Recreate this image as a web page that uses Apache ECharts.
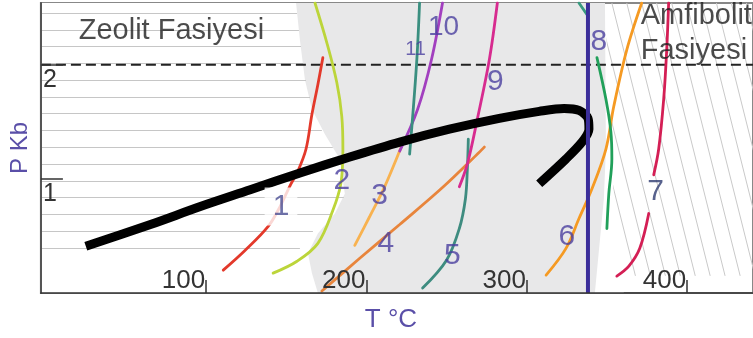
<!DOCTYPE html>
<html><head><meta charset="utf-8">
<script src="https://cdn.jsdelivr.net/npm/echarts@6/dist/echarts.min.js"></script>
<style>html,body{margin:0;padding:0;background:#fff}#c{width:753px;height:338px}</style>
</head><body><div id="c"></div>
<script>
// ---- axis ticks ----
const xTicks = [100, 200, 300, 400];
const yTicks = [1, 2];

// ---- reaction curves (T °C, P kb) ----
const curve1 = [[172.8,2.061],[169.7,1.826],[166.0,1.565],[162.3,1.261],[157.3,1.070],[152.3,0.939],[146.1,0.757],[138.7,0.583],[124.4,0.374],[110.7,0.200]];
const curve2 = [[167.9,2.54],[175.3,2.191],[181.5,1.843],[184.6,1.548],[185.3,1.261],[184.0,0.957],[179.0,0.722],[169.7,0.435],[156.7,0.278],[141.8,0.174]];
const curve3 = [[192.7,0.417],[202.0,0.670],[211.3,0.930],[221.9,1.287]];
const curve4 = [[172.2,0.017],[195.8,0.304],[220.7,0.600],[248.6,0.939],[273.5,1.278]];
const curve5 = [[235.0,0.043],[249.9,0.287],[257.9,0.565],[261.7,0.826],[262.9,1.087],[263.5,1.348]];
const curve6 = [[371.6,2.54],[362.3,2.130],[354.2,1.635],[349.3,1.261],[340.6,0.913],[332.5,0.652],[324.4,0.391],[312.0,0.157]];
const curve7a = [[388.4,2.54],[387.2,2.130],[385.3,1.696],[382.2,1.261],[379.1,1.035]];
const curve7b = [[376.0,0.696],[370.4,0.391],[363.6,0.235],[356.1,0.148]];
const curve8a = [[332.5,2.54],[338.1,2.426]];
const curve8b = [[343.7,2.061],[349.3,1.696],[352.4,1.409],[353.0,1.174],[351.1,0.870],[349.9,0.565]];
const curve9 = [[281.6,2.54],[276.6,2.043],[269.1,1.522],[262.9,1.130],[257.9,0.930]];
const curve10 = [[247.4,2.54],[240.5,2.043],[231.9,1.609],[220.7,1.243]];
const curve11 = [[233.1,2.54],[231.2,2.0],[226.9,1.217]];
const pathCurve = [[25.0,0.409],[65.3,0.600],[96.4,0.757],[127.5,0.904],[158.5,1.052],[189.6,1.191],[220.7,1.322],[251.7,1.435],[282.8,1.530],[307.7,1.591],[323.2,1.617],[332.5,1.600],[338.1,1.530],[338.7,1.435],[334.4,1.322],[324.4,1.174],[307.7,0.957]];
const blueT = 338.1;
const blueP = [0, 2.54];
const dashP = 2.0;

// ---- curve number labels ----
const labelText = ['1','2','3','4','5','6','7','8','9','10','11'];
const labelT = [146.7,184.6,208.2,212.0,253.6,325.0,380.3,344.9,280.3,248.0,230.6];
const labelP = [0.757,0.983,0.852,0.435,0.330,0.496,0.887,2.200,1.852,2.330,2.130];

// ---- facies names ----
const faciesText = ['Zeolit Fasiyesi', 'Amfibolit\nFasiyesi'];
const faciesT = [20.6, 371.0];
const faciesP = [2.296, 2.270];

// ---- field outlines ----
const grayT = [156.1,158.5,161.6,166.0,174.1,183.4,186.5,180.3,169.7,163.5,166.0,169.7,342.4,348.0,349.3,348.7];
const grayP = [2.54,2.217,1.870,1.609,1.391,1.174,0.870,0.696,0.522,0.348,0.174,0,0,0.826,1.261,2.54];
const coverT = [-3,348.7,352.4,354.3,360.5,-3];
const coverP = [2.54,2.54,1.261,0.826,0,0];
const hatchP = [2.452,2.304,2.157,2.009,1.861,1.713,1.574,1.426,1.278,1.130,0.983,0.835,0.687,0.539,0.391];
const hatchEndT = [156.7,157.9,159.2,160.4,162.3,164.8,166.6,172.2,179.0,184.0,185.9,185.9,178.4,166.6,158.5];
const diagTopT = [306.4,315.7,325.0,334.3,343.7,353.0,362.3,371.6,380.9,390.3,399.6,408.9,418.2,427.5,436.9];
const diagShift = 42.7, diagEndP = 0.15, topP = 2.54;

const FONT = 'Liberation Sans, Arial, sans-serif';
const LBL = '#4a3f9f';

function poly(T, P, color, z) {
  return {
    type: 'custom', z: z, silent: true, clip: true, data: [0],
    renderItem: function (params, api) {
      return { type: 'polygon', shape: { points: T.map((t, i) => api.coord([t, P[i]])) }, style: { fill: color } };
    }
  };
}
function curve(data, color, width, z) {
  return { type: 'line', data: data, smooth: 0.35, symbol: 'none', silent: true, z: z || 6,
    lineStyle: { color: color, width: width || 2.8, cap: 'round' } };
}

const hLines = hatchP.map((p, i) => ({ coords: [[-3, p], [hatchEndT[i], p]] }));
const dLines = diagTopT.map(t => ({ coords: [[t, topP], [t + diagShift, diagEndP]] }));

const labelData = labelText.map((s, i) => {
  const item = { value: [labelT[i], labelP[i]], label: { formatter: s } };
  if (s === '11') item.label.fontSize = 20;
  if (s === '10') item.label.fontSize = 28;
  if (s === '7') item.label.color = '#2e3b70';
  if (s === '1') { item.label.backgroundColor = '#fff'; item.label.padding = [4, 8]; item.label.color = '#4a4d92'; }
  return item;
});
const faciesData = faciesText.map((s, i) => ({ value: [faciesT[i], faciesP[i]], label: { formatter: s } }));

const chart = echarts.init(document.getElementById('c'), null, { renderer: 'canvas' });
chart.setOption({
  animation: false,
  backgroundColor: '#fff',
  grid: { left: 40, right: -2, top: 3, bottom: 43, show: true, borderColor: '#888', borderWidth: 2 },
  xAxis: {
    type: 'value', min: -3, max: 441, z: 20,
    axisLine: { show: true, onZero: false, lineStyle: { color: '#333', width: 1.5 } },
    axisTick: { show: true, inside: true, length: 13, customValues: xTicks, lineStyle: { color: '#333', width: 1.5 } },
    axisLabel: { inside: true, customValues: xTicks, align: 'right', verticalAlign: 'middle', margin: 12,
      fontSize: 26, color: '#333', fontFamily: FONT, padding: [0, 1, 0, 0] },
    splitLine: { show: false },
    name: 'T °C', nameLocation: 'middle', nameGap: 14,
    nameTextStyle: { color: '#5a4fa8', fontSize: 26, fontFamily: FONT, padding: [0, 12, 0, 0] }
  },
  yAxis: {
    type: 'value', min: 0, max: 2.54, z: 20,
    axisLine: { show: true, onZero: false, lineStyle: { color: '#555', width: 2 } },
    axisTick: { show: true, inside: true, length: 22, customValues: yTicks, lineStyle: { color: '#333', width: 1.5 } },
    axisLabel: { inside: true, customValues: yTicks, align: 'left', verticalAlign: 'top', margin: 2,
      fontSize: 25, lineHeight: 25, color: '#333', fontFamily: FONT, padding: [3, 0, 0, 0] },
    splitLine: { show: false },
    name: 'P Kb', nameLocation: 'middle', nameGap: 8, nameRotate: 90,
    nameTextStyle: { color: '#5a4fa8', fontSize: 24, fontFamily: FONT }
  },
  series: [
    { type: 'lines', coordinateSystem: 'cartesian2d', z: 1, silent: true, data: dLines,
      lineStyle: { color: '#c9c9c9', width: 1, opacity: 1 } },
    poly(coverT, coverP, '#ffffff', 2),
    poly(grayT, grayP, '#e8e8e9', 3),
    { type: 'lines', coordinateSystem: 'cartesian2d', z: 4, silent: true, data: hLines,
      lineStyle: { color: '#c6c6c6', width: 1, opacity: 1 } },
    { type: 'line', z: 5, silent: true, symbol: 'none', data: [[-3, dashP], [441, dashP]],
      lineStyle: { color: '#222', width: 2, type: [10, 5] } },
    curve(curve1, '#e3392b'),
    curve(curve2, '#bcd53a'),
    curve(curve3, '#f8b250'),
    curve(curve4, '#e8853c'),
    curve(curve5, '#3e8c80'),
    curve(curve6, '#f59a23'),
    curve(curve7a, '#d41f55'),
    curve(curve7b, '#d41f55'),
    curve(curve8a, '#3a9a80'),
    curve(curve8b, '#21a05a'),
    curve(curve9, '#d72b8f'),
    curve(curve10, '#a23fbf'),
    curve(curve11, '#3a8f80'),
    { type: 'line', data: pathCurve, smooth: 0.3, symbol: 'none', silent: true, z: 7,
      lineStyle: { color: '#000', width: 9, cap: 'butt', join: 'round' } },
    { type: 'line', data: blueP.map(p => [blueT, p]), symbol: 'none', silent: true, z: 8,
      lineStyle: { color: '#3b2e9a', width: 4 } },
    { type: 'scatter', z: 9, silent: true, symbolSize: 1, itemStyle: { color: 'rgba(0,0,0,0)' }, data: labelData,
      label: { show: true, position: 'inside', fontSize: 30, color: LBL, fontFamily: FONT, align: 'center', verticalAlign: 'middle' } },
    { type: 'scatter', z: 9, silent: true, symbolSize: 1, itemStyle: { color: 'rgba(0,0,0,0)' }, data: faciesData,
      label: { show: true, position: 'inside', fontSize: 29, lineHeight: 35, color: '#1e1e1e', fontFamily: FONT, align: 'left', verticalAlign: 'middle' } }
  ]
});
</script></body></html>
